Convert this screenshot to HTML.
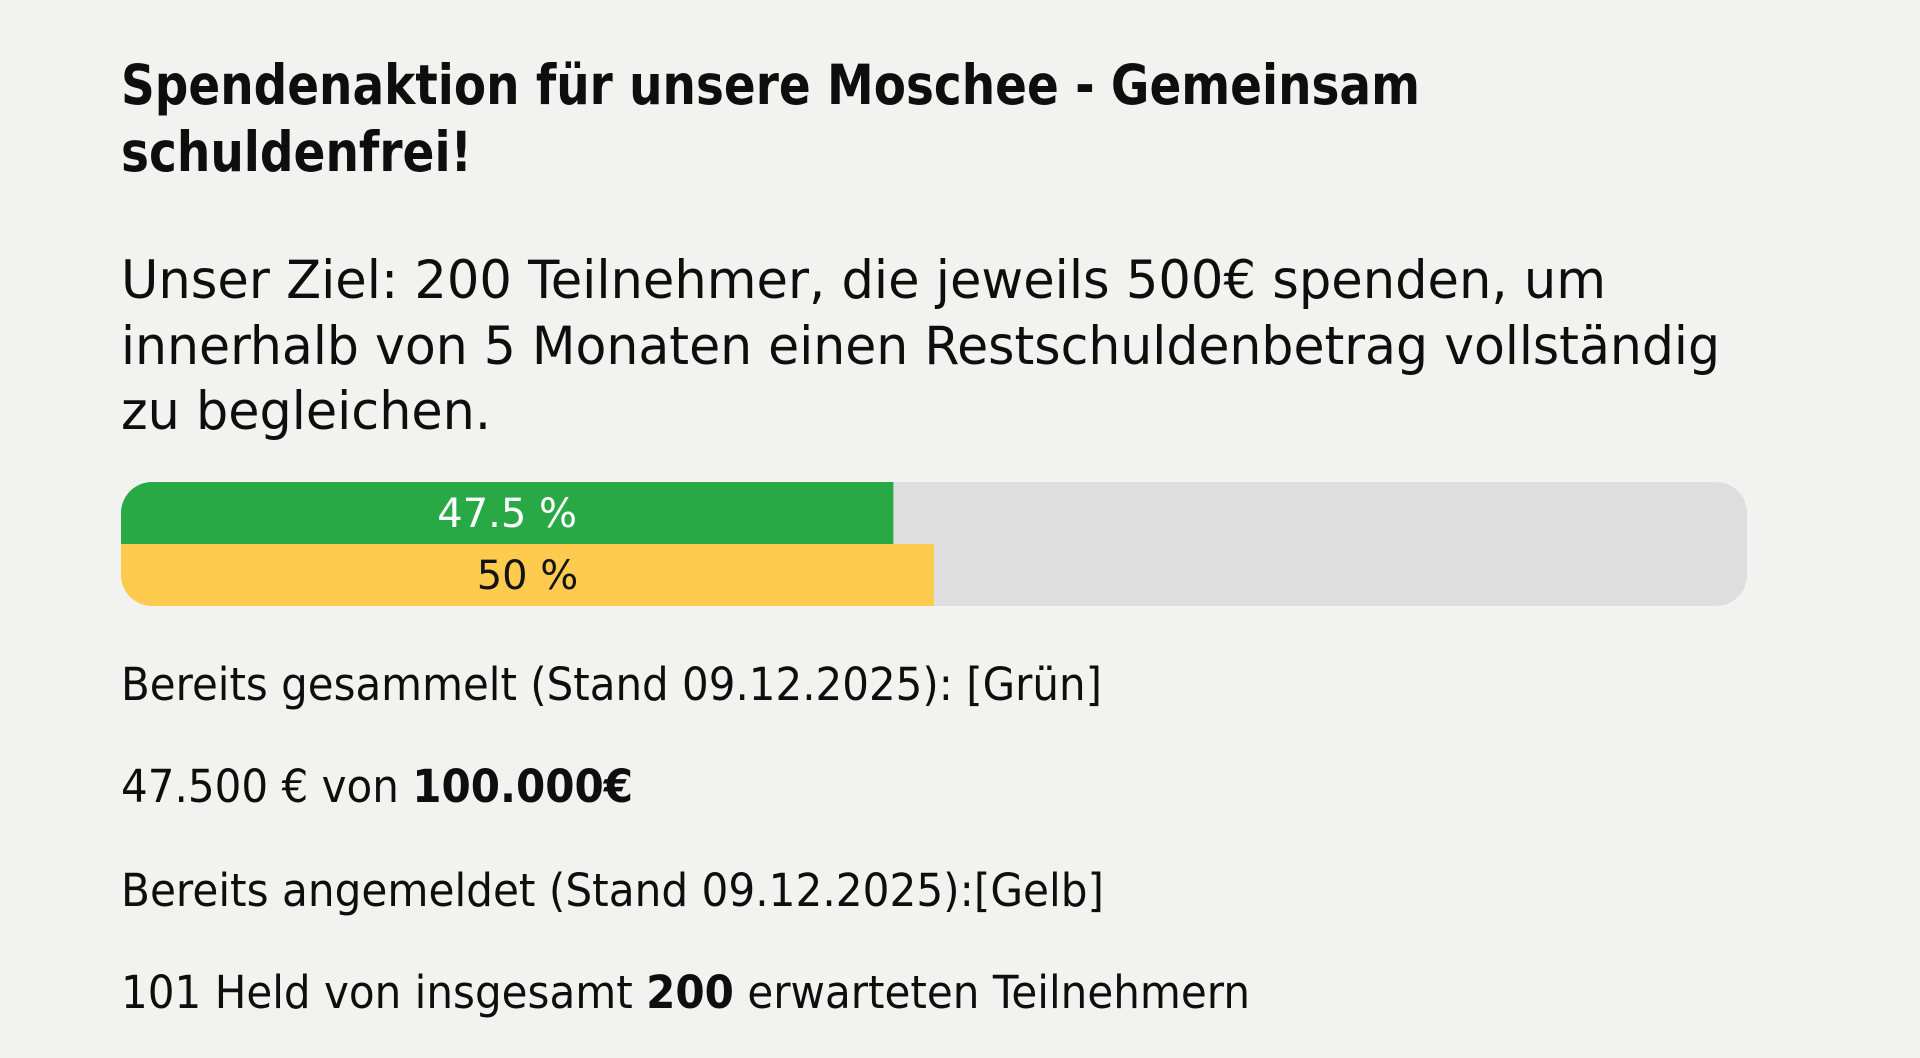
<!DOCTYPE html>
<html><head><meta charset="utf-8">
<style>
html,body{margin:0;padding:0;background:#f2f2f1;}
svg{display:block;}
text{font-family:"DejaVu Sans","Liberation Sans",sans-serif;fill:#0e0e0e;}
</style></head>
<body>
<svg id="page" width="1920" height="1058" viewBox="0 0 1920 1058" xmlns="http://www.w3.org/2000/svg">
<rect width="1920" height="1058" fill="#f2f2f1"/>
<g>
<text x="121" y="104" font-size="55" font-weight="bold" textLength="1299" lengthAdjust="spacingAndGlyphs">Spendenaktion für unsere Moschee - Gemeinsam</text>
<text x="121" y="171" font-size="55" font-weight="bold" textLength="351" lengthAdjust="spacingAndGlyphs">schuldenfrei!</text>
</g>
<g>
<text x="121" y="298" font-size="53" textLength="1485" lengthAdjust="spacingAndGlyphs">Unser Ziel: 200 Teilnehmer, die jeweils 500€ spenden, um</text>
<text x="121" y="364" font-size="53" textLength="1599" lengthAdjust="spacingAndGlyphs">innerhalb von 5 Monaten einen Restschuldenbetrag vollständig</text>
<text x="121" y="429" font-size="53" textLength="370" lengthAdjust="spacingAndGlyphs">zu begleichen.</text>
</g>
<g id="bars"></g>
<g>
<text x="121" y="700" font-size="45" textLength="981" lengthAdjust="spacingAndGlyphs">Bereits gesammelt (Stand 09.12.2025): [Grün]</text>
<text x="121" y="802" font-size="45" textLength="512" lengthAdjust="spacingAndGlyphs">47.500 € von <tspan font-weight="bold">100.000€</tspan></text>
</g>
<g>
<text x="121" y="906" font-size="45" textLength="983" lengthAdjust="spacingAndGlyphs">Bereits angemeldet (Stand 09.12.2025):[Gelb]</text>
<text x="121" y="1008" font-size="45" textLength="1129" lengthAdjust="spacingAndGlyphs">101 Held von insgesamt <tspan font-weight="bold">200</tspan> erwarteten Teilnehmern</text>
</g>
</svg>
<script>
const seriesNames = ["gesammelt", "angemeldet"];
const seriesValues = [47.5, 50];
const seriesLabels = ["47.5 %", "50 %"];
const seriesColors = ["#28a946", "#ffcb4f"];
const textColors = ["#ffffff", "#141414"];

const NS = "http://www.w3.org/2000/svg";
const g = document.getElementById("bars");
const x0 = 121, trackW = 1626, y0 = 482, rowH = 62, r = 31;
const xScale = v => trackW * v / 100;
const track = document.createElementNS(NS, "rect");
track.setAttribute("x", x0); track.setAttribute("y", y0);
track.setAttribute("width", trackW); track.setAttribute("height", rowH * 2);
track.setAttribute("rx", r); track.setAttribute("fill", "#dedede");


g.appendChild(track);
const clip = document.createElementNS(NS, "clipPath");
clip.setAttribute("id", "trackclip");
const cr = document.createElementNS(NS, "rect");
cr.setAttribute("x", x0); cr.setAttribute("y", y0);
cr.setAttribute("width", trackW); cr.setAttribute("height", rowH * 2);
cr.setAttribute("rx", r);
clip.appendChild(cr); g.appendChild(clip);
seriesValues.forEach((v, i) => {
  const w = xScale(v);
  const rect = document.createElementNS(NS, "rect");
  rect.setAttribute("x", x0); rect.setAttribute("y", y0 + i * rowH);
  rect.setAttribute("width", w); rect.setAttribute("height", rowH);
  rect.setAttribute("fill", seriesColors[i]);
  rect.setAttribute("clip-path", "url(#trackclip)");
  
  
  g.appendChild(rect);
  const t = document.createElementNS(NS, "text");
  t.setAttribute("x", x0 + w / 2); t.setAttribute("y", y0 + i * rowH + rowH / 2 + 14);
  t.setAttribute("text-anchor", "middle"); t.setAttribute("font-size", "40");
  t.setAttribute("style", "fill:" + textColors[i]);
  t.textContent = seriesLabels[i];
  
  
  g.appendChild(t);
});
</script>
</body></html>
